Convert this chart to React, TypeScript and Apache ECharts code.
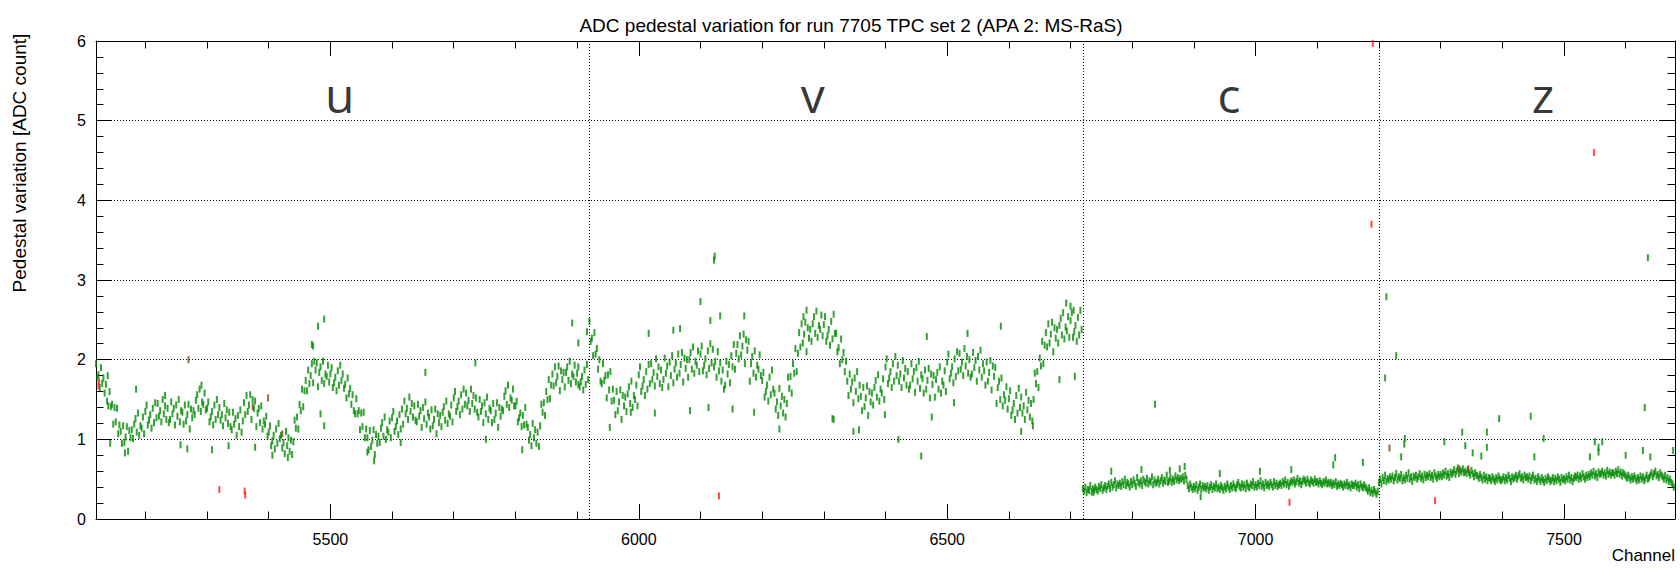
import React, { useEffect, useRef } from "react";
import * as echarts from "echarts";

const TITLE = "ADC pedestal variation for run 7705 TPC set 2 (APA 2: MS-RaS)";
const Y_NAME = "Pedestal variation [ADC count]";
const X_NAME = "Channel";

const X_MIN = 5120;
const X_MAX = 7680;
const CHANNEL_STEP = 2;
const MAJOR_X = [5500, 6000, 6500, 7000, 7500];
const MINOR_X = [5200, 5300, 5400, 5600, 5700, 5800, 5900, 6100, 6200, 6300, 6400, 6600, 6700, 6800, 6900, 7100, 7200, 7300, 7400, 7600];
const PLANE_BOUNDARIES = [5920, 6720, 7200];
const PLANE_LABELS: [number, number, string][] = [
  [5515, 5.33, "u"],
  [6282, 5.33, "v"],
  [6957, 5.33, "c"],
  [7466, 5.33, "z"],
];

const U_START = 5120;
const uValues = [
  1.95,1.77,1.81,1.65,1.90,1.70,1.77,1.58,1.69,1.48,
  1.42,1.60,1.41,1.44,1.19,1.40,1.22,1.39,1.07,1.18,
  1.10,0.95,1.17,0.96,1.03,1.16,0.85,1.11,1.02,1.12,
  1.01,1.19,1.26,1.09,1.33,1.05,1.17,1.14,1.28,1.07,
  1.35,1.43,1.18,1.24,1.31,1.14,1.39,1.21,1.46,1.27,
  1.45,1.29,1.36,1.22,1.50,1.32,1.42,1.25,1.39,1.21,
  1.25,1.47,1.32,1.39,1.18,1.43,1.29,1.50,1.22,1.36,
  1.34,1.19,1.43,1.23,1.31,1.44,1.13,1.38,1.27,1.36,
  1.31,1.49,1.56,1.39,1.63,1.35,1.47,1.44,1.58,1.37,
  1.39,1.47,1.22,1.28,1.35,1.18,1.43,1.25,1.50,1.31,
  1.40,1.24,1.31,1.17,1.45,1.27,1.37,1.20,1.34,1.16,
  1.12,1.34,1.19,1.26,1.05,1.30,1.16,1.37,1.09,1.23,
  1.46,1.31,1.55,1.35,1.43,1.56,1.25,1.50,1.39,1.48,
  1.16,1.33,1.39,1.21,1.42,1.13,1.23,1.19,1.29,1.04,
  1.09,1.17,0.92,0.98,1.05,0.88,1.13,0.95,1.20,1.01,
  1.05,0.89,0.96,0.82,1.10,0.92,1.02,0.85,0.99,0.81,
  0.97,1.24,1.14,1.28,1.13,1.44,1.36,1.63,1.41,1.61,
  1.74,1.61,1.87,1.70,1.80,1.95,1.71,1.98,1.87,1.96,
  1.66,1.84,1.91,1.74,1.98,1.70,1.82,1.79,1.93,1.72,
  1.82,1.90,1.65,1.71,1.78,1.61,1.86,1.68,1.93,1.74,
  1.82,1.64,1.69,1.52,1.77,1.57,1.64,1.44,1.56,1.36,
  1.32,1.51,1.32,1.36,1.12,1.33,1.16,1.34,1.02,1.13,
  1.02,0.87,1.11,0.91,0.99,1.12,0.81,1.06,0.95,1.04,
  0.96,1.14,1.21,1.04,1.28,1.00,1.12,1.09,1.23,1.02,
  1.27,1.35,1.10,1.16,1.23,1.06,1.31,1.13,1.38,1.19,
  1.48,1.32,1.39,1.25,1.53,1.35,1.45,1.28,1.42,1.24,
  1.22,1.44,1.29,1.36,1.15,1.40,1.26,1.47,1.19,1.33,
  1.28,1.13,1.37,1.17,1.25,1.38,1.07,1.32,1.21,1.30,
  1.16,1.34,1.41,1.24,1.48,1.20,1.32,1.29,1.43,1.22,
  1.52,1.60,1.35,1.41,1.48,1.31,1.56,1.38,1.63,1.44,
  1.58,1.42,1.49,1.35,1.63,1.45,1.55,1.38,1.52,1.34,
  1.28,1.50,1.35,1.42,1.21,1.46,1.32,1.53,1.25,1.39,
  1.36,1.21,1.45,1.25,1.33,1.46,1.15,1.40,1.29,1.38,
  1.36,1.54,1.61,1.44,1.68,1.40,1.52,1.49,1.63,1.42,
  1.42,1.48,1.22,1.27,1.33,1.16,1.30,1.18,1.40,1.19,
  1.15,0.99,1.06,0.92,1.20,1.02,1.12,0.95,1.09,0.91,
  1.17,1.44,1.34,1.46,1.30,1.60,1.50,1.75,1.51,1.68,
  1.82,1.67,1.91,1.71,1.79,1.92,1.61,1.86,1.75,1.84,
  1.66,1.84,1.91,1.74,1.98,1.70,1.82,1.79,1.93,1.72,
  1.83,1.91,1.66,1.72,1.79,1.62,1.87,1.69,1.94,1.75,
];

const V_START = 5920;
const vValues = [
  2.48,2.23,2.27,2.05,2.34,2.07,2.14,1.88,2.00,1.73,
  1.70,1.95,1.74,1.80,1.52,1.81,1.62,1.85,1.48,1.63,
  1.49,1.31,1.60,1.36,1.47,1.62,1.25,1.55,1.42,1.53,
  1.35,1.57,1.66,1.45,1.73,1.40,1.55,1.50,1.68,1.42,
  1.81,1.91,1.60,1.67,1.75,1.55,1.85,1.63,1.94,1.70,
  1.95,1.75,1.84,1.67,2.01,1.79,1.91,1.70,1.87,1.65,
  1.75,2.02,1.83,1.92,1.66,1.97,1.80,2.05,1.71,1.88,
  1.96,1.78,2.07,1.83,1.94,2.09,1.72,2.02,1.89,2.00,
  1.78,2.00,2.09,1.88,2.16,1.83,1.98,1.93,2.11,1.85,
  2.07,2.17,1.86,1.93,2.01,1.81,2.11,1.89,2.20,1.96,
  2.13,1.91,1.98,1.78,2.10,1.86,1.96,1.73,1.87,1.63,
  1.68,1.98,1.82,1.94,1.71,2.05,1.91,2.19,1.88,2.08,
  2.19,2.01,2.30,2.06,2.17,2.32,1.95,2.25,2.12,2.23,
  1.73,1.95,2.04,1.83,2.11,1.78,1.93,1.88,2.06,1.80,
  1.74,1.84,1.53,1.60,1.68,1.48,1.78,1.56,1.87,1.63,
  1.58,1.38,1.47,1.30,1.64,1.42,1.54,1.33,1.50,1.28,
  1.45,1.78,1.64,1.79,1.58,1.95,1.83,2.14,1.85,2.08,
  2.34,2.16,2.45,2.21,2.32,2.47,2.10,2.40,2.27,2.38,
  2.23,2.45,2.54,2.33,2.61,2.28,2.43,2.38,2.56,2.30,
  2.44,2.54,2.23,2.30,2.38,2.18,2.48,2.26,2.57,2.33,
  2.33,2.10,2.15,1.95,2.26,2.00,2.09,1.85,1.98,1.73,
  1.55,1.82,1.63,1.72,1.46,1.77,1.60,1.85,1.51,1.68,
  1.54,1.36,1.65,1.41,1.52,1.67,1.30,1.60,1.47,1.58,
  1.43,1.65,1.74,1.53,1.81,1.48,1.63,1.58,1.76,1.50,
  1.91,2.01,1.70,1.77,1.85,1.65,1.95,1.73,2.04,1.80,
  1.93,1.73,1.82,1.65,1.99,1.77,1.89,1.68,1.85,1.63,
  1.68,1.95,1.76,1.85,1.59,1.90,1.73,1.98,1.64,1.81,
  1.76,1.58,1.87,1.63,1.74,1.89,1.52,1.82,1.69,1.80,
  1.53,1.75,1.84,1.63,1.91,1.58,1.73,1.68,1.86,1.60,
  1.97,2.07,1.76,1.83,1.91,1.71,2.01,1.79,2.10,1.86,
  2.08,1.88,1.97,1.80,2.14,1.92,2.04,1.83,2.00,1.78,
  1.82,2.09,1.90,1.99,1.73,2.04,1.87,2.12,1.78,1.95,
  1.86,1.68,1.97,1.73,1.84,1.99,1.62,1.92,1.79,1.90,
  1.45,1.65,1.73,1.50,1.77,1.42,1.56,1.49,1.66,1.38,
  1.51,1.61,1.30,1.37,1.45,1.25,1.55,1.33,1.64,1.40,
  1.53,1.33,1.42,1.25,1.59,1.37,1.49,1.28,1.45,1.23,
  1.50,1.83,1.70,1.85,1.65,2.02,1.92,2.23,1.95,2.18,
  2.34,2.16,2.45,2.21,2.32,2.47,2.10,2.40,2.27,2.38,
  2.21,2.43,2.52,2.31,2.59,2.26,2.41,2.36,2.54,2.28,
  2.49,2.59,2.28,2.35,2.43,2.23,2.53,2.31,2.62,2.38,
];

const C_START = 6720;
const cValues = [
  0.38,0.35,0.40,0.33,0.37,0.36,0.42,0.34,0.38,0.36,
  0.40,0.37,0.35,0.41,0.38,0.43,0.36,0.39,0.42,0.37,
  0.41,0.44,0.38,0.46,0.40,0.43,0.48,0.39,0.44,0.42,
  0.45,0.41,0.47,0.43,0.50,0.42,0.46,0.44,0.40,0.47,
  0.43,0.49,0.45,0.41,0.52,0.46,0.44,0.48,0.42,0.50,
  0.47,0.45,0.51,0.44,0.48,0.46,0.53,0.43,0.49,0.45,
  0.46,0.50,0.44,0.48,0.52,0.45,0.49,0.47,0.55,0.46,
  0.48,0.52,0.46,0.50,0.47,0.54,0.49,0.52,0.48,0.51,
  0.50,0.53,0.48,0.55,0.50,0.42,0.38,0.44,0.40,0.37,
  0.41,0.38,0.43,0.36,0.40,0.44,0.37,0.42,0.39,0.41,
  0.38,0.42,0.36,0.40,0.43,0.37,0.41,0.39,0.44,0.38,
  0.40,0.37,0.42,0.39,0.36,0.41,0.38,0.44,0.40,0.37,
  0.42,0.39,0.44,0.40,0.38,0.43,0.46,0.41,0.39,0.44,
  0.40,0.43,0.38,0.45,0.41,0.39,0.44,0.42,0.47,0.40,
  0.43,0.40,0.45,0.42,0.48,0.41,0.44,0.39,0.46,0.42,
  0.44,0.41,0.46,0.43,0.40,0.47,0.42,0.45,0.41,0.43,
  0.45,0.42,0.47,0.44,0.49,0.43,0.46,0.41,0.45,0.48,
  0.46,0.49,0.44,0.47,0.51,0.45,0.48,0.43,0.47,0.50,
  0.48,0.45,0.50,0.46,0.44,0.49,0.47,0.45,0.50,0.46,
  0.47,0.44,0.48,0.45,0.43,0.47,0.45,0.49,0.44,0.46,
  0.44,0.46,0.42,0.45,0.43,0.47,0.41,0.44,0.42,0.45,
  0.43,0.40,0.44,0.42,0.46,0.41,0.43,0.39,0.44,0.42,
  0.42,0.45,0.40,0.43,0.38,0.44,0.41,0.39,0.43,0.40,
  0.38,0.35,0.39,0.33,0.36,0.32,0.37,0.34,0.31,0.35,
];

const Z_START = 7200;
const zValues = [
  0.46,0.50,0.44,0.52,0.48,0.55,0.47,0.51,0.49,0.53,
  0.50,0.54,0.48,0.52,0.57,0.49,0.53,0.51,0.56,0.48,
  0.52,0.49,0.55,0.51,0.58,0.50,0.53,0.47,0.54,0.52,
  0.55,0.50,0.53,0.57,0.51,0.54,0.49,0.56,0.52,0.55,
  0.53,0.57,0.52,0.55,0.50,0.58,0.54,0.51,0.56,0.53,
  0.56,0.53,0.58,0.55,0.60,0.54,0.57,0.52,0.59,0.56,
  0.58,0.62,0.56,0.60,0.64,0.57,0.61,0.59,0.63,0.58,
  0.60,0.57,0.62,0.58,0.55,0.61,0.57,0.53,0.58,0.55,
  0.54,0.51,0.56,0.52,0.49,0.55,0.50,0.53,0.48,0.52,
  0.51,0.48,0.53,0.50,0.47,0.52,0.49,0.54,0.50,0.48,
  0.50,0.53,0.48,0.52,0.49,0.55,0.51,0.47,0.53,0.50,
  0.52,0.55,0.50,0.54,0.57,0.51,0.53,0.49,0.55,0.52,
  0.53,0.50,0.54,0.48,0.52,0.55,0.49,0.51,0.47,0.53,
  0.50,0.47,0.52,0.49,0.46,0.51,0.48,0.53,0.50,0.47,
  0.49,0.52,0.47,0.51,0.48,0.53,0.50,0.46,0.52,0.49,
  0.51,0.48,0.53,0.50,0.55,0.49,0.52,0.47,0.51,0.54,
  0.52,0.55,0.50,0.54,0.51,0.57,0.53,0.50,0.55,0.52,
  0.56,0.53,0.58,0.55,0.60,0.54,0.57,0.52,0.59,0.56,
  0.57,0.60,0.55,0.58,0.54,0.61,0.56,0.59,0.55,0.58,
  0.58,0.55,0.60,0.57,0.62,0.56,0.59,0.54,0.58,0.56,
  0.54,0.51,0.55,0.52,0.49,0.53,0.50,0.54,0.51,0.48,
  0.52,0.49,0.54,0.50,0.53,0.48,0.51,0.55,0.50,0.52,
  0.55,0.58,0.53,0.57,0.60,0.54,0.56,0.52,0.58,0.55,
  0.53,0.50,0.55,0.49,0.52,0.47,0.50,0.46,0.44,0.40,
];

// isolated channels away from the main band: [channel, value]
const greenOutliers: [number, number][] = [
  [5139,1.80],[5185,1.63],[5291,1.68],[5232,1.55],[5308,0.87],[5268,0.88],[5257,0.93],[5167,0.83],
  [5143,0.95],[5335,0.92],[5378,0.90],[5406,0.80],[5431,0.77],[5490,2.51],[5480,2.42],[5470,2.19],
  [5472,2.17],[5490,1.17],[5484,1.32],[5654,1.84],[5735,1.96],[5571,0.73],[5560,0.84],[5614,0.96],
  [5892,2.46],[5902,2.21],[5916,2.35],[5752,1.00],[5811,0.87],[5902,1.69],
  [6122,3.25],[6123,3.30],[6100,2.73],[6132,2.55],[6116,2.49],[6171,2.55],[6056,2.37],[6067,2.39],
  [6016,2.33],[5953,1.15],[6026,1.33],[6083,1.36],[6113,1.40],[6152,1.38],[6228,1.13],[6187,1.34],
  [6272,2.62],[6267,2.54],[6314,1.26],[5987,1.34],[6587,2.42],[6533,2.33],[6467,2.29],[6693,2.71],
  [6700,2.67],[6705,2.62],[6421,1.00],[6458,0.79],[6348,1.10],[6357,1.12],[6620,1.10],[6639,1.17],
  [6316,1.25],[6707,1.79],[6682,1.75],[6399,1.31],[6475,1.28],[6511,1.46],
  [6837,1.44],[7129,0.77],[7126,0.68],[7174,0.71],[6911,0.28],[6815,0.62],[6861,0.61],[6877,0.63],
  [6885,0.66],[6766,0.60],[7007,0.60],[7058,0.62],[6737,0.33],[6942,0.57],
  [7212,2.79],[7228,2.05],[7210,1.77],[7636,3.28],[7631,1.40],[7395,1.26],[7446,1.29],[7335,1.09],
  [7375,1.09],[7242,1.01],[7241,0.94],[7340,0.92],[7375,0.90],[7306,0.97],[7467,1.01],[7550,0.97],
  [7556,0.90],[7556,0.84],[7562,0.97],[7628,0.86],[7677,0.86],[7236,0.78],[7352,0.83],[7366,0.79],
  [7452,0.78],[7542,0.78],[7640,0.78],[7600,0.80],
];
const redPoints: [number, number][] = [
  [5124,1.67],[5125,1.72],[5320,0.37],[5361,0.35],[5362,0.30],[6130,0.29],[7055,0.21],
  [7188,3.70],[7190,5.97],[7291,0.23],[7549,4.60],
];
const brownPoints: [number, number][] = [
  [5270,2.00],[5399,1.52],[5374,1.41],[5422,1.07],[7217,0.89],[7330,0.63],[7345,0.63],
];

const FONT = "'Liberation Sans', Arial, Helvetica, sans-serif";
const GREEN = "#008a00";

const toPoints = (start: number, vals: number[]) =>
  vals.map((v, i) => [start + i * CHANNEL_STEP, v]);

export default function App() {
  const ref = useRef<HTMLDivElement>(null);
  useEffect(() => {
    if (!ref.current) return;
    const chart = echarts.init(ref.current, undefined, { renderer: "svg" });
    const dash = { symbol: "rect", symbolSize: [2, 7] };
    const baseX = {
      type: "value",
      min: X_MIN,
      max: X_MAX,
      splitLine: { show: false },
    };
    const baseY = { type: "value", min: 0, max: 6, interval: 1 };
    const line = { lineStyle: { color: "#000", width: 1 } };
    chart.setOption({
      animation: false,
      backgroundColor: "#ffffff",
      title: {
        text: TITLE,
        left: 846,
        textAlign: "center",
        top: 11,
        textStyle: { fontFamily: FONT, fontSize: 19, fontWeight: "normal", color: "#000" },
      },
      grid: { left: 96, right: 5, top: 41, bottom: 51 },
      xAxis: [
        {
          ...baseX,
          position: "bottom",
          axisLine: { show: true, ...line },
          axisTick: { show: true, inside: true, length: 15, customValues: MAJOR_X, ...line },
          axisLabel: {
            show: true,
            customValues: MAJOR_X,
            formatter: (v: number) => String(v),
            color: "#000",
            fontSize: 16,
            fontFamily: FONT,
            margin: 12,
          },
        },
        {
          ...baseX,
          position: "bottom",
          axisLine: { show: false },
          axisTick: { show: true, inside: true, length: 7.5, customValues: MINOR_X, ...line },
          axisLabel: { show: false },
        },
        {
          ...baseX,
          position: "top",
          axisLine: { show: true, ...line },
          axisTick: { show: true, inside: true, length: 15, customValues: MAJOR_X, ...line },
          axisLabel: { show: false },
        },
        {
          ...baseX,
          position: "top",
          axisLine: { show: false },
          axisTick: { show: true, inside: true, length: 7.5, customValues: MINOR_X, ...line },
          axisLabel: { show: false },
        },
      ],
      yAxis: [
        {
          ...baseY,
          position: "left",
          axisLine: { show: true, ...line },
          axisTick: { show: true, inside: true, length: 15, ...line },
          minorTick: { show: true, splitNumber: 5, length: 7.5, ...line },
          axisLabel: { color: "#000", fontSize: 16, fontFamily: FONT, margin: 10 },
          splitLine: { show: true, lineStyle: { color: "#000", width: 1, type: [1, 2] } },
        },
        {
          ...baseY,
          position: "right",
          axisLine: { show: true, ...line },
          axisTick: { show: true, inside: true, length: 15, ...line },
          minorTick: { show: true, splitNumber: 5, length: 7.5, ...line },
          axisLabel: { show: false },
          splitLine: { show: false },
        },
      ],
      graphic: [
        {
          type: "text",
          right: 5,
          top: 547,
          style: { text: X_NAME, fontFamily: FONT, fontSize: 17, fill: "#000" },
        },
        {
          type: "text",
          x: 19,
          y: 163,
          rotation: Math.PI / 2,
          style: {
            text: Y_NAME,
            fontFamily: FONT,
            fontSize: 19,
            fill: "#000",
            align: "center",
            verticalAlign: "middle",
          },
        },
      ],
      series: [
        {
          type: "scatter",
          name: "u",
          data: toPoints(U_START, uValues),
          ...dash,
          itemStyle: { color: GREEN },
          markLine: {
            silent: true,
            symbol: "none",
            label: { show: false },
            lineStyle: { color: "#000", width: 1, type: [1, 2] },
            data: PLANE_BOUNDARIES.map((x) => ({ xAxis: x })),
          },
        },
        { type: "scatter", name: "v", data: toPoints(V_START, vValues), ...dash, itemStyle: { color: GREEN } },
        { type: "scatter", name: "c", data: toPoints(C_START, cValues), ...dash, itemStyle: { color: GREEN } },
        { type: "scatter", name: "z", data: toPoints(Z_START, zValues), ...dash, itemStyle: { color: GREEN } },
        { type: "scatter", name: "outliers", data: greenOutliers, ...dash, itemStyle: { color: GREEN } },
        { type: "scatter", name: "mixed", data: brownPoints, ...dash, itemStyle: { color: "#7a4a1e" } },
        { type: "scatter", name: "red", data: redPoints, ...dash, itemStyle: { color: "#ff1a1a" } },
        {
          type: "scatter",
          name: "planes",
          data: PLANE_LABELS,
          symbolSize: 0,
          silent: true,
          label: {
            show: true,
            position: "inside",
            formatter: (p: any) => p.data[2],
            fontFamily: "'Open Sans', 'DejaVu Sans', sans-serif",
            fontSize: 48,
            color: "#000",
          },
        },
      ],
    });
    return () => chart.dispose();
  }, []);
  return (
    <div
      ref={ref}
      style={{ position: "fixed", left: 0, top: 0, width: 1680, height: 570 }}
    />
  );
}
